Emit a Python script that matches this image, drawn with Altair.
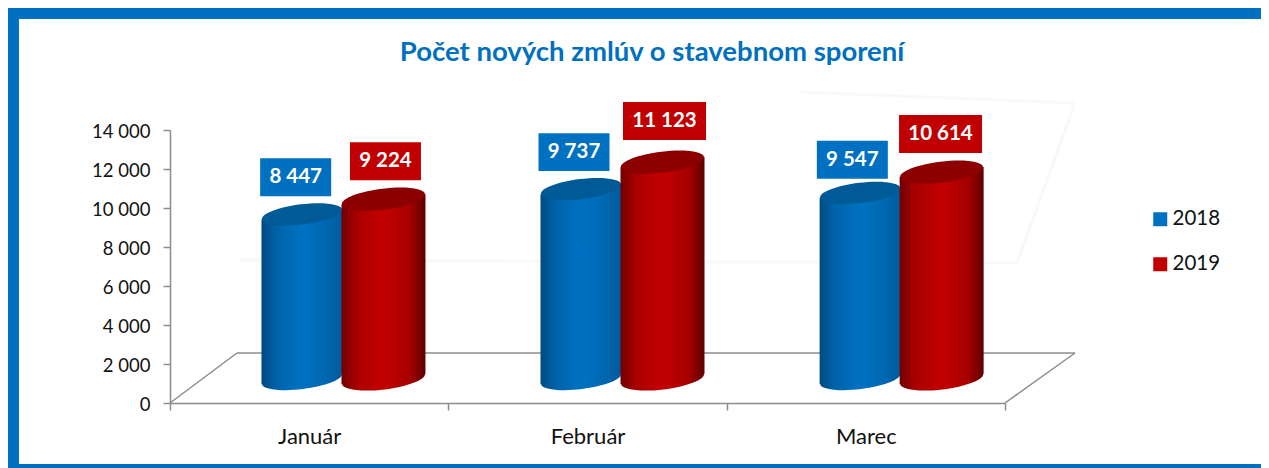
import altair as alt
import pandas as pd

months = ["Január", "Február", "Marec"]
series_names = ["2018", "2019"]
values_2018 = [8447, 9737, 9547]
values_2019 = [9224, 11123, 10614]
label_2018 = ["8 447", "9 737", "9 547"]
label_2019 = ["9 224", "11 123", "10 614"]

BLUE, RED = "#0070c0", "#c00000"
rows = []
for m, a, b, la, lb in zip(months, values_2018, values_2019, label_2018, label_2019):
    rows.append({"month": m, "series": "2018", "v": a, "label": la})
    rows.append({"month": m, "series": "2019", "v": b, "label": lb})
df = pd.DataFrame(rows)

FONT = "Lato"
W, H = 835, 273
PAD_L, PAD_T = 162, 122
GREY = "#8c8c8c"
STEP = W / 3

x_enc = alt.X("month:N", sort=months, title=None,
              scale=alt.Scale(paddingInner=0, paddingOuter=0),
              axis=alt.Axis(labelAngle=0, labelFont=FONT, labelFontSize=22, labelColor="#111111",
                            labelPadding=16, tickBand="extent", tickSize=7, tickColor=GREY, tickWidth=1.5,
                            domainColor=GREY, domainWidth=1.5, grid=False))
y_enc = alt.Y("v:Q", title=None, stack=None,
              scale=alt.Scale(domain=[0, 14000], nice=False),
              axis=alt.Axis(values=list(range(0, 14001, 2000)), labelFont=FONT, labelFontSize=18.5,
                            labelColor="#111111", labelPadding=13, labelOffset=1, tickSize=7, tickColor=GREY,
                            tickWidth=1.5, domainColor=GREY, domainWidth=1.5, grid=False,
                            labelExpr="replace(format(datum.value, ','), ',', ' ')"))
y2_enc = alt.Y2(datum=0)
off_enc = alt.XOffset("off:Q", scale=alt.Scale(domain=[0, 280], range=[0, 280]))


def grad(stops):
    return alt.LinearGradient(gradient="linear", x1=0, x2=1, y1=0, y2=0,
                              stops=[alt.GradientStop(color=c, offset=o) for o, c in stops])


def at(shift):
    return str(STEP / 2 + shift)


def cyl_at(shift):
    # the cylinders of the last month sit slightly to the right of the band grid
    return f"{STEP / 2 + shift} + (datum.month === 'Marec' ? 1.5 : datum.month === 'Február' ? 0.7 : 0)"


edge = {"2018": ("#004a80", "#005a9c"), "2019": ("#700000", "#5c0000")}
mid = {"2018": ("#0062a8", "#0066ae"), "2019": ("#a80000", "#a40000")}
bright = {"2018": BLUE, "2019": RED}
cap = {"2018": "#005a96", "2019": "#8c0000"}
centre = {"2018": -7.2, "2019": 74.3}
half_w = {"2018": 40, "2019": 41.5}

BASE = -24
TILT = 5
ellipse = "M-1,0.122 A1,0.25 -7 1 1 1,-0.122 A1,0.25 -7 1 1 -1,0.122 Z"

layers = []
deco = alt.Chart(alt.Data(values=[{"a": 1}]))


def rule(x, y, x2, y2, color=GREY, width=1.5):
    return deco.mark_rule(color=color, strokeWidth=width).encode(
        x=alt.value(x - 170), y=alt.value(y - 130), x2=alt.value(x2 - 170), y2=alt.value(y2 - 130))


def band_rect(x, x2, y, y2):
    return deco.mark_rect(color=BLUE).encode(
        x=alt.value(x - 170), x2=alt.value(x2 - 170), y=alt.value(y - 130), y2=alt.value(y2 - 130))


# outer frame
layers += [band_rect(8, 19, 9, 466), band_rect(8, 1261, 8, 19), band_rect(8, 1261, 464, 468)]
# faint back wall and floor
FAINT = "#f8f8f8"
layers += [rule(1075, 103, 1017, 263, FAINT, 3), rule(1017, 263, 240, 260, FAINT, 3), rule(1075, 103, 800, 92, FAINT, 3)]
layers += [rule(170, 403, 237, 353), rule(237, 353, 1075, 353), rule(1075, 353, 1005, 403)]
# title
layers.append(deco.mark_text(font=FONT, fontSize=27.5, fontWeight="bold", color=BLUE, baseline="middle", align="center")
              .encode(x=alt.value(652 - 170), y=alt.value(53 - 130), text=alt.value("Počet nových zmlúv o stavebnom sporení")))

base = alt.Chart(df)
for s in series_names:
    sel = f"datum.series === '{s}'"
    c, hw = centre[s], half_w[s]
    e1, e2 = edge[s]
    m1, m2 = mid[s]
    left = grad([(0, e1), (0.35, m1), (0.9, bright[s]), (1, bright[s])])
    right = grad([(0, bright[s]), (0.1, bright[s]), (0.65, m2), (1, e2)])
    whole = grad([(0, e1), (0.175, m1), (0.45, bright[s]), (0.55, bright[s]), (0.825, m2), (1, e2)])
    sub = base.transform_filter(sel)
    at_c = sub.transform_calculate(off=cyl_at(c))
    # base ellipse
    layers.append(at_c.mark_point(shape=ellipse, filled=True, fill=whole, opacity=1, strokeWidth=0,
                                  size=(2 * hw) ** 2, yOffset=H + BASE)
                  .encode(x=x_enc, xOffset=off_enc, y=alt.value(0)))
    # cylinder body, split so its ends follow the tilt
    layers.append(sub.transform_calculate(off=cyl_at(c - hw / 2))
                  .mark_bar(fill=left, yOffset=BASE + TILT, y2Offset=BASE + TILT, strokeWidth=0, width=hw + 1)
                  .encode(x=x_enc, xOffset=off_enc, y=y_enc, y2=y2_enc))
    layers.append(sub.transform_calculate(off=cyl_at(c + hw / 2))
                  .mark_bar(fill=right, yOffset=BASE - TILT, y2Offset=BASE - TILT, strokeWidth=0, width=hw + 1)
                  .encode(x=x_enc, xOffset=off_enc, y=y_enc, y2=y2_enc))
    # top ellipse
    layers.append(at_c.mark_point(shape=ellipse, filled=True, fill=cap[s], opacity=1, strokeWidth=0,
                                  size=(2 * hw) ** 2, yOffset=BASE)
                  .encode(x=x_enc, xOffset=off_enc, y=y_enc))

legend = alt.Legend(title=None, orient="none", legendX=980, legendY=79, symbolType="square", symbolSize=196,
                    symbolStrokeWidth=0, labelFont=FONT, labelFontSize=20.5, labelColor="#111111",
                    rowPadding=24, labelOffset=2, symbolOpacity=1)
color_enc = alt.Color("series:N", scale=alt.Scale(domain=series_names, range=[BLUE, RED]), legend=legend)

# data label boxes: (filter, horizontal shift from band centre, vertical shift from value)
groups = [
    ("datum.series === '2018' && datum.month !== 'Marec'", -13.5, -61),
    ("datum.series === '2018' && datum.month === 'Marec'", -13.5, -57),
    ("datum.series === '2019' && datum.month === 'Január'", 76.3, -62),
    ("datum.series === '2019' && datum.month === 'Február'", 77, -65),
    ("datum.series === '2019' && datum.month === 'Marec'", 74.7, -62),
]
for flt, dx, dy in groups:
    sub = base.transform_filter(flt).transform_calculate(off=at(dx))
    for long_label in (False, True):
        bw = 83 if long_label else 71
        test = "datum.v >= 10000" if long_label else "datum.v < 10000"
        ratio = 19 / (bw / 2)
        shape = f"M-1,-{ratio:.3f} H1 V{ratio:.3f} H-1 Z"
        layers.append(sub.transform_filter(test)
                      .mark_point(shape=shape, filled=True, opacity=1, strokeWidth=0, size=bw ** 2, yOffset=dy)
                      .encode(x=x_enc, xOffset=off_enc, y=y_enc, color=color_enc))
    layers.append(sub.mark_text(font=FONT, fontSize=20.5, fontWeight="bold", color="white", yOffset=dy, baseline="middle")
                  .encode(x=x_enc, xOffset=off_enc, y=y_enc, text="label:N"))

chart = alt.layer(*layers).properties(
    width=W, height=H, background="white",
    padding={"left": PAD_L, "top": PAD_T, "right": 1253 - PAD_L - W, "bottom": 460 - PAD_T - H},
    autosize=alt.AutoSizeParams(type="none"),
).configure_view(stroke=None)

chart.save("out.html", embed_options={"renderer": "svg", "actions": False})
